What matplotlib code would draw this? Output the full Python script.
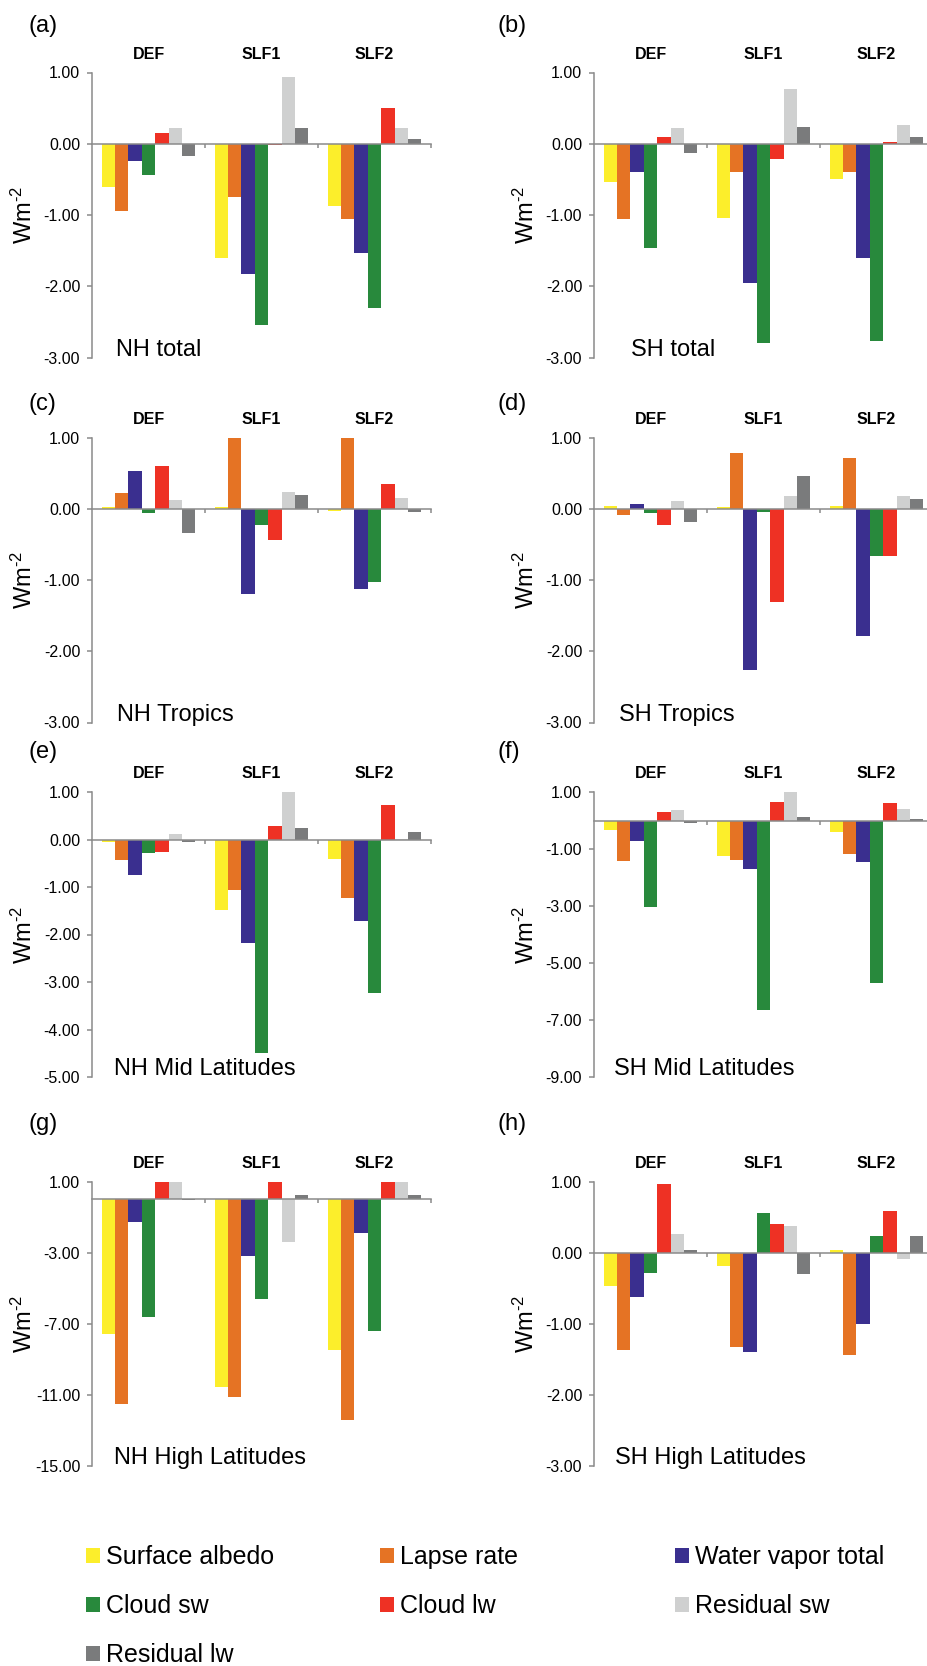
import matplotlib
matplotlib.use("Agg")
import matplotlib.pyplot as plt
import numpy as np

plt.rcParams['font.family'] = ['Liberation Sans', 'DejaVu Sans']
plt.rcParams['mathtext.fontset'] = 'custom'
plt.rcParams['mathtext.rm'] = 'Liberation Sans'
plt.rcParams['mathtext.default'] = 'regular'
plt.rcParams['axes.unicode_minus'] = False

############################
#   DATA #
############################
GROUPS = ['DEF', 'SLF1', 'SLF2']
SERIES = ['Surface albedo', 'Lapse rate', 'Water vapor total', 'Cloud sw',
          'Cloud lw', 'Residual sw', 'Residual lw']
COLORS = ['#fcee2b', '#e57324', '#3a2f8f', '#28893c', '#ee3124', '#cfd0d0', '#7a7b7c']

# rows = series (same order as SERIES), cols = DEF, SLF1, SLF2
NH_TOTAL = [[-0.61, -1.60, -0.87],
            [-0.95, -0.75, -1.05],
            [-0.24, -1.83, -1.53],
            [-0.44, -2.55, -2.31],
            [0.15, -0.02, 0.50],
            [0.22, 0.93, 0.22],
            [-0.17, 0.22, 0.06]]
SH_TOTAL = [[-0.54, -1.04, -0.50],
            [-1.06, -0.40, -0.40],
            [-0.40, -1.96, -1.61],
            [-1.47, -2.79, -2.77],
            [0.10, -0.22, 0.03],
            [0.22, 0.77, 0.26],
            [-0.13, 0.24, 0.10]]
NH_TROPICS = [[0.03, 0.03, -0.02],
              [0.22, 1.00, 1.00],
              [0.54, -1.19, -1.12],
              [-0.06, -0.22, -1.03],
              [0.61, -0.43, 0.36],
              [0.13, 0.24, 0.15],
              [-0.33, 0.20, -0.04]]
SH_TROPICS = [[0.05, 0.03, 0.05],
              [-0.08, 0.79, 0.72],
              [0.07, -2.26, -1.79],
              [-0.06, -0.04, -0.66],
              [-0.22, -1.30, -0.66],
              [0.12, 0.19, 0.19],
              [-0.18, 0.47, 0.14]]
NH_MID = [[-0.05, -1.48, -0.41],
          [-0.43, -1.06, -1.24],
          [-0.75, -2.17, -1.72],
          [-0.29, -4.49, -3.24],
          [-0.26, 0.29, 0.73],
          [0.11, 1.00, 0.02],
          [-0.05, 0.25, 0.15]]
SH_MID = [[-0.32, -1.25, -0.39],
          [-1.42, -1.37, -1.19],
          [-0.73, -1.71, -1.47],
          [-3.03, -6.65, -5.71],
          [0.30, 0.65, 0.60],
          [0.37, 1.00, 0.41],
          [-0.09, 0.13, 0.07]]
NH_HIGH = [[-7.60, -10.55, -8.50],
           [-11.50, -11.10, -12.40],
           [-1.25, -3.18, -1.88],
           [-6.60, -5.58, -7.40],
           [1.00, 1.00, 1.00],
           [1.00, -2.40, 1.00],
           [-0.05, 0.22, 0.22]]
SH_HIGH = [[-0.47, -0.19, 0.03],
           [-1.37, -1.33, -1.44],
           [-0.63, -1.40, -1.00],
           [-0.29, 0.56, 0.24],
           [0.96, 0.40, 0.59],
           [0.26, 0.38, -0.09],
           [0.04, -0.30, 0.24]]

PANEL_DATA = [NH_TOTAL, SH_TOTAL, NH_TROPICS, SH_TROPICS, NH_MID, SH_MID, NH_HIGH, SH_HIGH]
PANEL_NAMES = ['NH total', 'SH total', 'NH Tropics', 'SH Tropics',
               'NH Mid Latitudes', 'SH Mid Latitudes', 'NH High Latitudes', 'SH High Latitudes']
PANEL_LETTERS = ['(a)', '(b)', '(c)', '(d)', '(e)', '(f)', '(g)', '(h)']
TICKS_STD = [1, 0, -1, -2, -3]
PANEL_TICKS = [TICKS_STD, TICKS_STD, TICKS_STD, TICKS_STD,
               [1, 0, -1, -2, -3, -4, -5],
               [1, -1, -3, -5, -7, -9],
               [1, -3, -7, -11, -15],
               TICKS_STD]

###########################
#   LAYOUT (pixels)       #
###########################
W, H = 927, 1666
fig = plt.figure(figsize=(W / 100, H / 100), dpi=100)

col_left = [92, 594]
row_tb = [(72.5, 357.5), (438, 722.5), (792, 1077), (1181.5, 1466)]
letter_y = [26, 404, 752, 1124]
letter_x = [28, 497]
name_dx = [0.07, 0.11, 0.073, 0.073, 0.065, 0.06, 0.065, 0.062]
ax_w = 339

bar_w = 0.118
x = np.arange(len(GROUPS))
axes = []
for p in range(8):
    r, c = divmod(p, 2)
    top, bot = row_tb[r]
    ax = fig.add_axes([col_left[c] / W, 1 - bot / H, ax_w / W, (bot - top) / H])
    axes.append(ax)
    vals = np.array(PANEL_DATA[p])
    for k in range(len(SERIES)):
        ax.bar(x + (k - 3) * bar_w, vals[k], width=bar_w, color=COLORS[k],
               label=SERIES[k], zorder=2)

    ticks = PANEL_TICKS[p]
    ax.set_ylim(min(ticks), max(ticks))
    ax.set_xlim(-0.5, 2.5)
    ax.set_yticks(ticks)
    ax.set_yticklabels([f'{t:.2f}' for t in ticks])
    ax.set_xticks([0.5, 1.5, 2.5])
    ax.set_xticklabels([])

    for s in ['top', 'right']:
        ax.spines[s].set_visible(False)
    ax.spines['bottom'].set_position(('data', 0))
    for s in ['left', 'bottom']:
        ax.spines[s].set_color('#8a8a8a')
        ax.spines[s].set_linewidth(1.1)
        ax.spines[s].set_zorder(3)
    ax.tick_params(axis='y', direction='out', length=3.5, width=1.1, color='#8a8a8a',
                   labelsize=11.5, pad=5)
    ax.tick_params(axis='x', direction='out', length=3, width=1.1, color='#8a8a8a')

    ax.set_ylabel(r'Wm$^{\text{-}2}$', fontsize=17, va='center')
    ax.yaxis.set_label_coords(-0.2, 0.5)

    for i, g in enumerate(GROUPS):
        ax.annotate(g, xy=(i, 1), xycoords=('data', 'axes fraction'),
                    xytext=(0, 13), textcoords='offset points',
                    ha='center', va='center', fontsize=11.5, fontweight='bold')

    ax.text(name_dx[p], 0.006, PANEL_NAMES[p], transform=ax.transAxes,
            fontsize=17, ha='left', va='baseline')

    fig.text(letter_x[c] / W, 1 - letter_y[r] / H, PANEL_LETTERS[p],
             fontsize=17, ha='left', va='center')

# legend in three columns
handles, labels = axes[0].get_legend_handles_labels()
legend_cols = [[0, 3, 6], [1, 4], [2, 5]]
col_x = [86, 380, 675]
for cx, idx in zip(col_x, legend_cols):
    leg = fig.legend([handles[i] for i in idx], [labels[i] for i in idx],
                     loc='upper left', bbox_to_anchor=(cx / W, 1 - 1545 / H),
                     frameon=False, fontsize=18, handlelength=0.55, handleheight=0.55,
                     handletextpad=0.25, labelspacing=1.0, borderpad=0, borderaxespad=0)

fig.savefig('out.png', dpi=100)
